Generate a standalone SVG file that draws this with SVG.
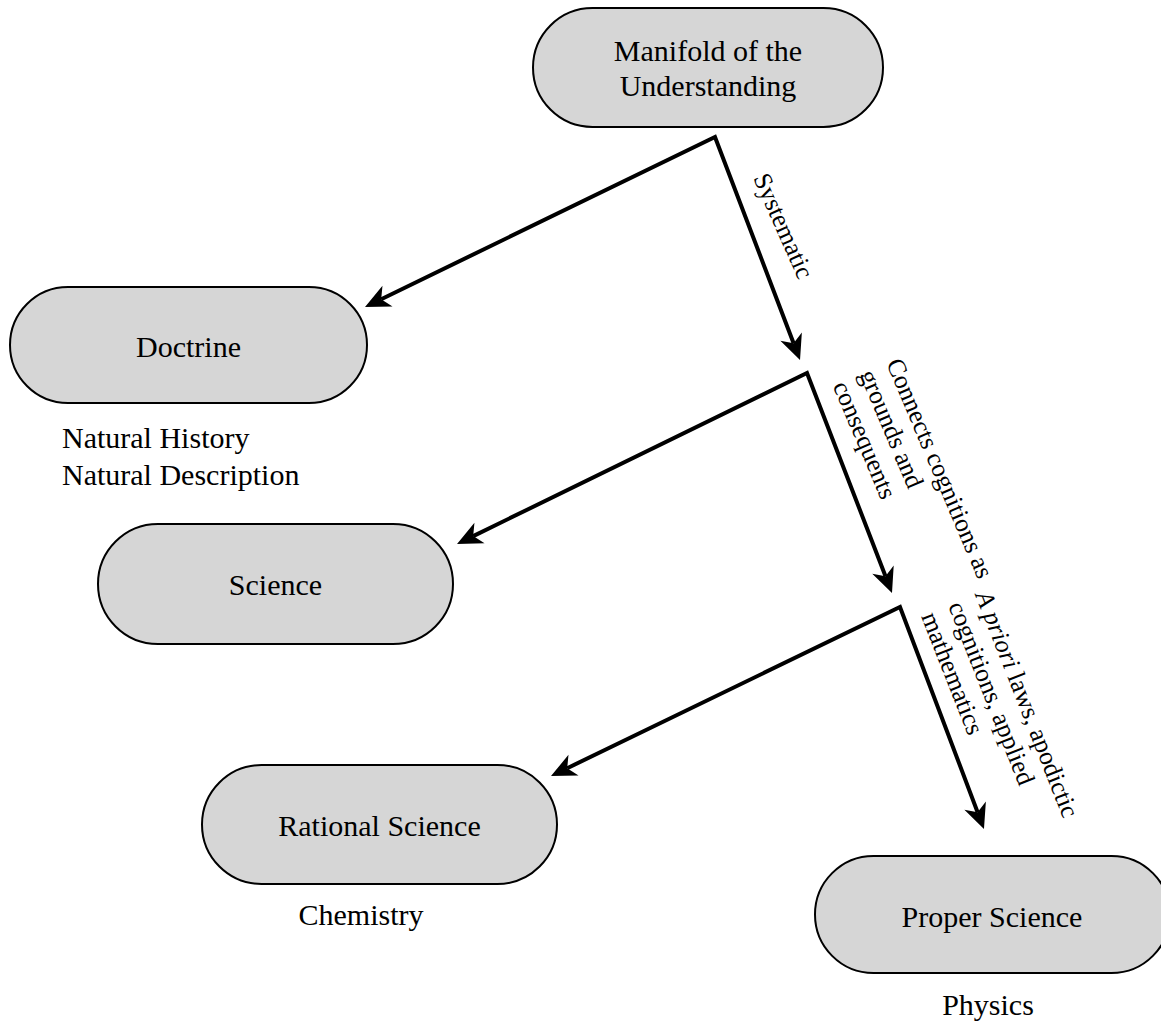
<svg xmlns="http://www.w3.org/2000/svg" width="1161" height="1022" viewBox="0 0 1161 1022">
<style>
.node rect{fill:#d6d6d6;stroke:#000;stroke-width:2}
text{font-family:"Liberation Serif","Times New Roman",serif;fill:#000}
.nt{font-size:30px;text-anchor:middle}
.ft{font-size:30px}
.lbl{font-size:25.6px}
.edge{fill:none;stroke:#000;stroke-width:4;stroke-linejoin:miter;stroke-miterlimit:10}
</style>
<defs>
<marker id="arr" markerUnits="userSpaceOnUse" orient="auto-start-reverse" refX="0" refY="0" markerWidth="40" markerHeight="40" overflow="visible">
<path d="M18,0 L-7,-11.5 L0,0 L-7,11.5 Z" fill="#000"/>
</marker>
</defs>
<rect width="1161" height="1022" fill="#fff"/>
<g id="connectors">
<path class="edge" d="M381.2,299.2 L715,137 L793.6,343.2" marker-start="url(#arr)" marker-end="url(#arr)"/>
<path class="edge" d="M473.2,536.1 L807,373 L885.5,576.2" marker-start="url(#arr)" marker-end="url(#arr)"/>
<path class="edge" d="M567.2,768.2 L900,607 L977.6,812.2" marker-start="url(#arr)" marker-end="url(#arr)"/>
<text class="lbl" transform="translate(753,178) rotate(66)">Systematic</text>
<text class="lbl" transform="translate(886,363) rotate(67)"><tspan x="0" y="0">Connects cognitions as</tspan><tspan x="0" y="29">grounds and</tspan><tspan x="0" y="58">consequents</tspan></text>
<text class="lbl" transform="translate(975,595) rotate(68.5)"><tspan x="0" y="0"><tspan font-style="italic">A priori</tspan> laws, apodictic</tspan><tspan x="0" y="29">cognitions, applied</tspan><tspan x="0" y="58">mathematics</tspan></text>
</g>
<g id="manifold" class="node">
<rect x="533" y="8" width="350" height="119" rx="59.5"/>
<text class="nt" x="708" y="61">Manifold of the</text>
<text class="nt" x="708" y="96">Understanding</text>
</g>
<g id="doctrine" class="node">
<rect x="10" y="287" width="357" height="116" rx="58"/>
<text class="nt" x="188.5" y="357">Doctrine</text>
</g>
<g id="doctrine-note">
<text class="ft" x="62" y="448">Natural History</text>
<text class="ft" x="62" y="485">Natural Description</text>
</g>
<g id="science" class="node">
<rect x="98" y="524" width="355" height="120" rx="60"/>
<text class="nt" x="275.5" y="595">Science</text>
</g>
<g id="rational-science" class="node">
<rect x="202" y="765" width="355" height="119" rx="59.5"/>
<text class="nt" x="379.5" y="836">Rational Science</text>
</g>
<g id="rational-note">
<text class="ft" x="361" y="925" text-anchor="middle">Chemistry</text>
</g>
<g id="proper-science" class="node">
<rect x="815" y="856" width="355" height="117" rx="58.5"/>
<text class="nt" x="992" y="927">Proper Science</text>
</g>
<g id="proper-note">
<text class="ft" x="988" y="1015" text-anchor="middle">Physics</text>
</g>
</svg>
